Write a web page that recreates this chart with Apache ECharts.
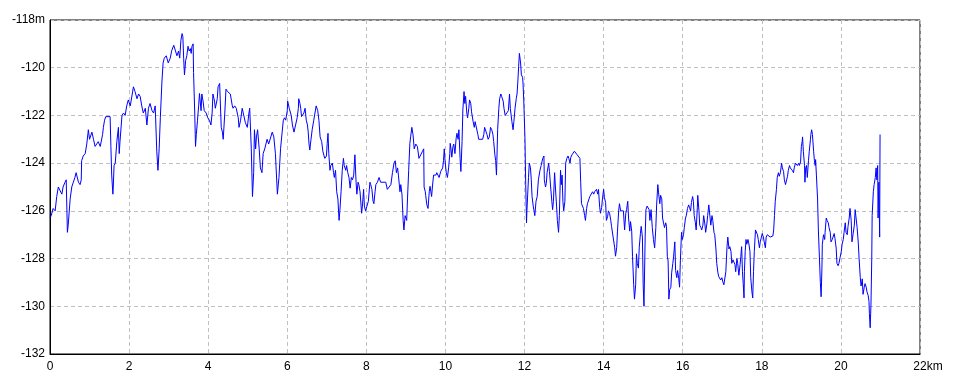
<!DOCTYPE html>
<html>
<head>
<meta charset="utf-8">
<script src="https://cdn.jsdelivr.net/npm/echarts@6/dist/echarts.min.js"></script>
<style>
html,body{margin:0;padding:0;background:#fff;}
#chart{width:960px;height:384px;}
</style>
</head>
<body>
<div id="chart"></div>
<script>
// Distance along route (km)
const distKm = [
0.00,0.03,0.08,0.13,0.17,0.21,0.25,0.30,0.33,0.38,
0.41,0.44,0.46,0.51,0.55,0.59,0.63,0.66,0.72,0.76,
0.79,0.80,0.84,0.89,0.93,0.96,0.97,1.00,1.06,1.10,
1.14,1.18,1.22,1.27,1.33,1.35,1.38,1.41,1.52,1.54,
1.56,1.59,1.60,1.62,1.65,1.69,1.73,1.75,1.77,1.82,
1.86,1.90,1.94,1.98,2.03,2.07,2.11,2.15,2.20,2.24,
2.28,2.32,2.36,2.41,2.45,2.49,2.53,2.58,2.62,2.66,
2.70,2.73,2.76,2.79,2.83,2.86,2.89,2.94,2.99,3.04,
3.08,3.13,3.17,3.21,3.25,3.28,3.31,3.34,3.36,3.38,
3.40,3.43,3.46,3.49,3.52,3.55,3.57,3.59,3.62,3.63,
3.66,3.68,3.70,3.73,3.76,3.78,3.82,3.84,3.87,3.90,
3.95,3.99,4.03,4.07,4.10,4.12,4.16,4.18,4.23,4.25,
4.29,4.33,4.36,4.38,4.42,4.45,4.49,4.56,4.61,4.63,
4.67,4.71,4.76,4.78,4.82,4.86,4.90,4.94,4.99,5.03,
5.05,5.09,5.12,5.15,5.17,5.20,5.22,5.25,5.29,5.32,
5.36,5.39,5.43,5.49,5.53,5.58,5.62,5.66,5.70,5.75,
5.79,5.83,5.87,5.90,5.93,5.96,6.00,6.01,6.05,6.10,
6.13,6.17,6.21,
6.25,6.28,6.29,6.32,6.34,6.36,6.39,6.42,6.45,6.48,
6.51,6.53,6.55,6.57,6.60,6.63,6.67,6.70,6.73,6.77,
6.80,6.83,6.87,6.90,6.93,6.95,6.99,7.01,7.03,7.05,
7.08,7.10,7.14,7.17,7.19,7.22,7.25,7.28,7.31,7.33,
7.36,7.39,7.42,7.44,7.48,7.50,7.53,7.56,7.59,7.62,
7.65,7.68,7.71,7.74,7.76,7.79,7.81,7.84,7.88,7.90,
7.93,7.95,7.98,8.02,8.05,8.09,8.11,8.14,8.17,8.19,
8.22,8.24,8.28,8.32,8.36,8.49,8.53,8.57,8.62,8.66,
8.70,8.73,8.76,8.79,8.81,8.85,8.87,8.90,8.93,8.95,
8.98,9.02,9.04,9.07,9.10,9.12,9.15,9.18,9.21,9.25,
9.29,9.33,9.38,9.42,
9.45,9.46,9.49,9.50,9.53,9.56,9.59,9.61,9.65,9.67,
9.70,9.76,9.78,9.82,9.84,9.88,9.93,9.95,9.97,9.99,
10.02,10.05,10.08,10.11,10.12,10.14,10.16,10.19,10.21,10.24,
10.27,10.29,10.32,10.34,10.37,10.39,10.42,10.44,10.47,10.49,
10.51,10.54,10.56,10.59,10.61,10.64,10.66,10.70,10.73,10.75,
10.78,10.82,10.84,10.94,10.97,10.99,11.03,11.05,11.08,11.11,
11.14,11.17,11.20,11.22,11.25,11.27,11.29,11.30,11.32,11.35,
11.37,11.40,11.42,11.46,11.48,11.51,11.56,11.59,11.62,11.64,
11.68,11.71,11.73,11.76,11.79,11.81,11.83,11.85,11.87,11.90,
11.92,11.95,11.96,11.98,12.01,12.03,12.05,12.06,12.10,12.12,
12.15,12.17,12.19,12.22,12.24,12.26,12.29,12.32,12.35,12.39,
12.42,
12.46,12.49,12.50,12.53,12.55,12.57,12.61,12.63,12.66,12.69,
12.71,12.73,12.76,12.78,12.81,12.83,12.86,12.88,12.91,12.93,
12.95,12.97,12.99,13.02,13.04,13.07,13.10,13.12,13.15,13.17,
13.20,13.23,13.26,13.30,13.33,13.37,13.40,13.42,13.44,13.47,
13.49,13.52,13.54,13.57,13.59,13.63,13.65,13.69,13.72,13.75,
13.77,13.80,13.82,13.85,13.87,13.90,13.92,13.95,13.97,14.00,
14.02,14.05,14.07,14.10,14.12,14.15,14.18,14.20,14.23,14.25,
14.28,14.30,14.33,14.35,14.38,14.40,14.43,14.45,14.48,14.50,
14.53,14.56,14.58,14.61,14.63,14.66,14.68,14.71,14.73,14.76,
14.78,14.81,14.83,14.85,14.88,14.90,14.93,14.95,14.98,15.00,
15.02,15.05,15.07,15.10,15.12,15.15,15.17,15.20,15.23,15.26,
15.29,15.32,15.34,15.37,15.39,15.42,15.44,15.47,
15.49,15.52,15.54,15.57,15.59,15.61,15.63,15.65,15.67,15.70,
15.72,15.75,15.77,15.80,15.82,15.85,15.87,15.90,15.92,15.94,
15.97,15.99,16.02,16.04,16.07,16.09,16.12,16.15,16.17,16.20,
16.22,16.25,16.27,16.29,16.32,16.34,16.37,16.38,16.41,16.43,
16.46,16.48,16.51,16.53,16.56,16.58,16.61,16.63,16.66,16.69,
16.71,16.74,16.76,16.79,16.81,16.84,16.86,16.89,16.91,16.96,
16.99,17.01,17.04,17.07,17.09,17.12,17.14,17.17,17.19,17.22,
17.24,17.27,17.29,17.32,17.34,17.37,17.39,17.42,17.45,17.47,
17.49,17.51,17.53,17.55,17.56,17.58,17.60,17.62,17.65,17.67,
17.70,17.72,17.75,17.77,17.79,17.81,17.84,17.86,17.89,17.91,
17.94,17.96,17.99,18.01,18.04,18.06,18.09,18.11,18.14,18.16,
18.19,18.21,18.25,18.28,18.30,18.32,18.34,18.37,18.39,18.42,
18.44,18.47,18.50,18.52,18.55,18.57,18.60,18.62,18.65,18.67,
18.70,18.72,
18.75,18.77,18.80,18.82,18.85,18.87,18.90,18.93,18.95,18.98,
19.00,19.02,19.03,19.05,19.08,19.09,19.11,19.13,19.15,19.18,
19.20,19.23,19.24,19.26,19.28,19.31,19.33,19.35,19.36,19.38,
19.41,19.43,19.46,19.48,19.50,19.52,19.53,19.56,19.59,19.60,
19.63,19.65,19.68,19.70,19.73,19.75,19.78,19.80,19.83,19.85,
19.88,19.90,19.93,19.95,19.98,20.01,20.03,20.06,20.08,20.11,
20.13,20.16,20.18,20.21,20.23,20.26,20.28,20.31,20.34,20.36,
20.39,20.41,20.44,20.46,20.49,20.51,20.54,20.56,20.59,20.61,
20.64,20.66,20.69,20.71,20.72,20.74,20.76,20.78,20.79,20.82,
20.84,20.87,20.89,20.91,20.93,20.94,20.96,20.98,20.99
];

// Elevation (m)
const elevM = [
-126.3,-126.2,-125.9,-126.0,-125.4,-125.0,-125.0,-125.3,-125.0,-124.8,
-124.7,-126.9,-126.6,-125.5,-125.0,-124.8,-124.6,-124.4,-124.8,-124.9,
-124.7,-123.9,-123.7,-123.6,-123.2,-122.75,-122.6,-123.0,-122.7,-123.0,
-123.3,-123.3,-123.1,-123.3,-122.8,-122.5,-122.2,-122.05,-122.05,-123.3,
-124.5,-125.3,-125.0,-124.1,-124.0,-123.1,-122.5,-123.6,-123.1,-122.0,
-121.9,-122.0,-121.6,-121.35,-121.6,-121.6,-120.8,-121.0,-121.3,-121.1,
-121.2,-121.6,-121.9,-121.7,-122.4,-121.7,-121.5,-121.8,-121.9,-121.6,
-123.5,-124.3,-123.4,-122.1,-120.6,-119.8,-119.6,-119.5,-119.8,-119.6,
-119.27,-119.06,-119.1,-119.5,-119.3,-119.6,-118.85,-118.57,-118.7,-119.6,
-120.3,-119.7,-119.5,-119.1,-119.3,-119.2,-119.4,-119.1,-119.0,-120.2,
-121.9,-123.3,-122.8,-122.2,-121.57,-121.08,-121.8,-121.1,-121.4,-121.8,
-121.9,-122.1,-122.2,-122.4,-121.9,-121.1,-121.4,-121.7,-121.3,-120.8,
-120.66,-122.5,-122.7,-123.0,-121.9,-120.9,-121.0,-121.1,-121.6,-121.7,
-121.6,-121.7,-122.1,-122.5,-122.2,-121.7,-121.7,-122.3,-122.5,-121.9,
-121.7,-123.4,-125.4,-124.4,-122.6,-123.4,-122.9,-122.6,-123.4,-124.2,
-124.4,-123.6,-123.4,-123.0,-123.2,-123.2,-122.7,-122.9,-123.6,-125.3,
-124.6,-123.4,-122.7,-122.2,-122.1,-122.2,-121.8,-121.4,-121.7,-122.0,
-122.4,-122.7,-122.75,
-122.1,-121.7,-121.3,-121.5,-121.7,-122.05,-122.1,-121.9,-121.7,-122.2,
-122.4,-122.7,-123.2,-123.45,-123.0,-122.6,-122.2,-121.9,-121.6,-121.8,
-122.2,-122.9,-123.1,-123.5,-123.7,-123.8,-123.7,-123.17,-122.75,-123.6,
-124.3,-124.1,-124.0,-124.4,-124.6,-124.3,-125.2,-125.5,-126.4,-126.0,
-125.2,-124.3,-123.8,-124.1,-124.3,-124.1,-124.4,-124.6,-125.05,-124.6,
-124.7,-124.5,-123.65,-124.8,-125.3,-124.8,-124.9,-125.2,-126.1,-125.8,
-125.1,-125.8,-126.0,-126.0,-125.6,-124.8,-124.9,-125.1,-125.6,-125.7,
-125.2,-124.9,-124.8,-124.6,-124.8,-124.8,-125.1,-125.05,-124.9,-124.4,
-124.0,-123.9,-124.4,-124.2,-124.5,-125.2,-124.9,-125.3,-126.4,-126.8,
-126.2,-126.4,-125.5,-124.3,-123.17,-122.9,-122.5,-122.8,-123.4,-123.2,
-123.3,-123.8,-123.8,-123.5,
-123.4,-125.0,-125.2,-125.35,-125.75,-125.9,-125.2,-124.97,-125.4,-125.0,
-124.5,-124.5,-124.4,-124.35,-124.6,-124.35,-124.2,-123.9,-123.4,-123.9,
-124.4,-124.6,-124.2,-123.6,-123.17,-123.4,-123.75,-123.3,-123.2,-123.6,
-122.96,-122.75,-123.0,-122.6,-123.8,-124.35,-123.1,-121.77,-121.0,-121.5,
-121.2,-121.9,-122.1,-121.7,-121.35,-121.5,-121.85,-122.26,-122.5,-122.26,
-122.2,-122.8,-123.0,-123.0,-122.8,-122.5,-122.5,-122.8,-123.0,-122.9,
-122.5,-122.6,-122.8,-123.1,-123.65,-123.9,-124.5,-123.9,-122.6,-121.7,
-121.3,-121.1,-121.2,-121.4,-121.7,-122.0,-122.0,-121.8,-121.1,-121.7,
-122.26,-122.6,-122.26,-121.7,-121.3,-121.1,-120.6,-119.96,-119.4,-119.8,
-120.3,-120.4,-120.6,-121.36,-122.95,-124.9,-126.5,-126.0,-124.6,-124.0,
-124.2,-124.7,-125.4,-125.8,-126.0,-126.2,-125.6,-125.4,-124.7,-124.3,
-124.1,
-123.8,-123.7,-124.7,-125.0,-124.85,-124.4,-124.0,-124.35,-125.0,-125.6,
-125.95,-125.6,-124.4,-125.0,-125.8,-126.4,-126.9,-126.2,-124.3,-124.9,
-124.5,-125.6,-126.0,-125.6,-124.0,-123.8,-123.7,-123.8,-124.0,-123.75,
-123.65,-123.6,-123.5,-123.55,-123.65,-123.7,-123.8,-124.8,-125.7,-125.75,
-125.9,-126.2,-126.4,-125.9,-125.7,-125.5,-125.4,-125.4,-125.2,-125.3,
-125.2,-125.15,-125.1,-125.3,-125.1,-125.85,-126.1,-125.85,-125.5,-125.1,
-125.45,-125.65,-126.4,-126.25,-126.0,-126.1,-126.4,-126.65,-126.6,-126.65,
-127.55,-127.9,-127.55,-126.85,-126.0,-125.7,-126.0,-125.95,-126.0,-126.0,
-126.8,-126.1,-125.95,-125.6,-126.3,-126.85,-126.45,-126.85,-127.9,-129.1,
-129.7,-129.1,-127.8,-128.2,-128.4,-127.55,-126.95,-126.65,-127.1,-129.1,
-130.0,-127.1,-125.95,-125.8,-125.75,-125.95,-126.4,-125.95,-126.7,-127.2,
-127.55,-126.7,-125.75,-124.9,-125.25,-125.7,-125.35,-125.5,
-126.3,-126.55,-126.7,-126.5,-126.65,-127.9,-128.1,-129.7,-129.3,-129.2,
-128.6,-128.2,-127.9,-127.3,-128.5,-128.8,-128.5,-128.85,-129.2,-128.1,
-126.9,-127.2,-127.0,-126.7,-126.3,-126.2,-125.9,-125.75,-125.85,-126.0,
-125.65,-125.4,-125.6,-126.2,-126.5,-126.8,-125.85,-125.35,-126.0,-126.6,
-126.7,-126.8,-126.6,-126.2,-126.55,-126.9,-126.55,-126.2,-125.75,-125.7,
-126.6,-126.2,-126.4,-126.9,-127.0,-127.6,-128.2,-128.6,-128.75,-128.9,
-128.8,-128.95,-129.1,-129.05,-128.55,-127.5,-127.1,-127.6,-127.5,-127.7,
-128.2,-128.05,-128.1,-128.25,-128.55,-128.0,-128.2,-128.7,-128.25,-127.9,
-127.5,-128.55,-129.05,-129.65,-128.55,-127.7,-127.2,-127.4,-127.2,-127.35,
-127.7,-128.8,-129.4,-129.65,-128.55,-127.7,-126.8,-126.85,-127.0,-127.2,
-127.55,-127.3,-127.1,-126.95,-127.1,-127.3,-127.55,-127.1,-127.0,-126.95,
-127.0,-127.1,-127.1,-127.05,-126.8,-126.2,-125.6,-125.1,-124.6,-124.4,
-124.55,-124.4,-124.0,-124.2,-124.35,-124.7,-124.9,-124.75,-124.55,-124.3,
-124.1,-124.2,
-124.25,-124.3,-124.4,-124.2,-124.0,-124.0,-124.1,-124.0,-124.1,-123.95,
-123.3,-123.1,-122.9,-123.5,-124.1,-124.8,-124.2,-124.1,-124.6,-123.9,
-123.5,-123.0,-122.8,-122.6,-122.8,-123.5,-123.9,-124.1,-123.85,-124.5,
-125.5,-126.8,-128.1,-129.0,-129.6,-128.4,-127.4,-127.0,-127.2,-126.9,
-126.3,-126.4,-126.5,-126.7,-126.9,-127.3,-127.2,-127.1,-126.95,-127.15,
-127.56,-128.2,-128.3,-128.2,-127.95,-127.7,-127.4,-127.2,-126.9,-126.5,
-126.9,-127.0,-126.65,-126.3,-125.9,-126.4,-127.3,-126.95,-126.6,-125.95,
-126.0,-126.7,-127.35,-128.0,-128.8,-129.15,-128.85,-129.5,-129.2,-129.05,
-129.2,-129.4,-129.55,-129.8,-130.3,-130.9,-129.95,-128.0,-126.2,-125.2,
-124.9,-124.6,-124.2,-124.7,-124.1,-126.3,-124.8,-127.1,-122.8
];

const xTickLabels = ['0','2','4','6','8','10','12','14','16','18','20','22km'];
const yTickLabels = ['-132','-130','-128','-126','-124','-122','-120','-118m'];

const n = Math.min(distKm.length, elevM.length);
const seriesData = [];
for (let i = 0; i < n; i++) seriesData.push([distKm[i], elevM[i]]);

const chart = echarts.init(document.getElementById('chart'), null, {renderer: 'canvas'});
const font = {fontFamily: 'Liberation Sans', fontSize: 12, color: '#000'};
chart.setOption({
  animation: false,
  backgroundColor: '#fff',
  grid: {left: 50, right: 40, top: 20, bottom: 30, show: true, borderColor: '#000', borderWidth: 1, backgroundColor: '#fff'},
  xAxis: {
    type: 'value', min: 0, max: 22, interval: 2,
    axisLine: {show: true, lineStyle: {color: '#000', width: 1}},
    axisTick: {show: false},
    splitLine: {show: true, lineStyle: {color: '#c0c0c0', width: 1, type: [4, 3]}},
    axisLabel: Object.assign({}, font, {
      margin: 7, showMinLabel: true, showMaxLabel: true,
      formatter: function (v) {
        const s = xTickLabels[Math.round(v / 2)];
        return v === 22 ? '{end|' + s + '}' : s;
      },
      rich: {end: {fontFamily: 'Liberation Sans', fontSize: 12, color: '#000', padding: [0, 0, 0, 16]}}
    })
  },
  yAxis: {
    type: 'value', min: -132, max: -118, interval: 2,
    axisLine: {show: true, lineStyle: {color: '#000', width: 1}},
    axisTick: {show: false},
    splitLine: {show: true, lineStyle: {color: '#c0c0c0', width: 1, type: [4, 3]}},
    axisLabel: Object.assign({}, font, {
      margin: 5, showMinLabel: true, showMaxLabel: true,
      formatter: function (v) { return yTickLabels[Math.round((v + 132) / 2)]; }
    })
  },
  series: [{
    type: 'line',
    data: seriesData,
    showSymbol: false,
    symbol: 'none',
    smooth: false,
    lineStyle: {color: '#0000ff', width: 1},
    silent: true
  }]
});
</script>
</body>
</html>
